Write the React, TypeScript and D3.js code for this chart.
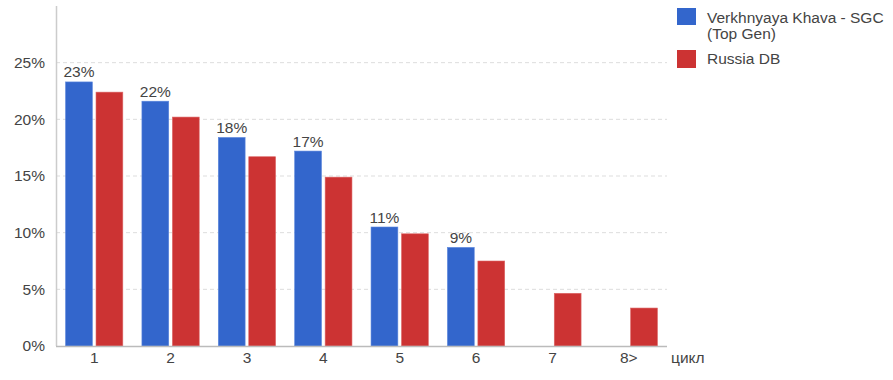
import React from "react";
import * as d3 from "d3";

const categories = ["1", "2", "3", "4", "5", "6", "7", "8>"];
const seriesNames = ["Verkhnyaya Khava - SGC (Top Gen)", "Russia DB"];
const topGen: (number | null)[] = [23.3, 21.6, 18.4, 17.2, 10.5, 8.7, null, null];
const russiaDb: number[] = [22.4, 20.2, 16.7, 14.9, 9.9, 7.5, 4.65, 3.35];
const topGenLabels = ["23%", "22%", "18%", "17%", "11%", "9%", "", ""];
const yTicks = [0, 5, 10, 15, 20, 25];
const colors = ["#3366cc", "#cc3333"];

const W = 893, H = 380;
const left = 56, right = 667, top = 6, bottom = 346;

export default function App() {
  const x = d3.scaleBand().domain(categories).range([left, right]).paddingInner(0.25).paddingOuter(0.125);
  const x1 = d3.scaleBand().domain(["a", "b"]).range([0, x.bandwidth()]).paddingInner(0.12);
  const y = d3.scaleLinear().domain([0, 30]).range([bottom, top]);
  const font = "'Liberation Sans', Arial, sans-serif";
  const textColor = "#444";
  const fs = 15.5;
  return (
    <svg width={W} height={H} style={{ position: "absolute", left: 0, top: 0 }} fontFamily={font}>
      {yTicks.filter(t => t > 0).map(t => (
        <line key={t} x1={left} x2={right} y1={y(t)} y2={y(t)} stroke="#ddd" strokeDasharray="4,3" />
      ))}
      {yTicks.map(t => (
        <text key={"l" + t} x={45} y={y(t)} dy="0.35em" textAnchor="end" fontSize={fs} fill={textColor}>{t}%</text>
      ))}
      {categories.map((c, i) => (
        <g key={c}>
          {topGen[i] != null && (
            <rect x={x(c)! + x1("a")!} y={y(topGen[i] as number)} width={x1.bandwidth()} height={bottom - y(topGen[i] as number)} fill={colors[0]} stroke="#5b86dd" strokeWidth={0.6} />
          )}
          <rect x={x(c)! + x1("b")!} y={y(russiaDb[i])} width={x1.bandwidth()} height={bottom - y(russiaDb[i])} fill={colors[1]} stroke="#dd6666" strokeWidth={0.6} />
          {topGenLabels[i] && (
            <text x={x(c)! + x1("a")! + x1.bandwidth() / 2} y={y(topGen[i] as number) - 4.5} textAnchor="middle" fontSize={fs} fill={textColor}>{topGenLabels[i]}</text>
          )}
          <text x={x(c)! + x.bandwidth() / 2} y={363} textAnchor="middle" fontSize={fs} fill={textColor}>{c}</text>
        </g>
      ))}
      <line x1={56.5} x2={56.5} y1={top} y2={bottom} stroke="#ccc" strokeWidth={1.5} />
      <line x1={left} x2={right} y1={bottom + 0.5} y2={bottom + 0.5} stroke="#bbb" strokeWidth={1.5} />
      <text x={671} y={363} fontSize={fs} fill={textColor}>цикл</text>
      <rect x={677} y={8} width={19} height={17} fill={colors[0]} />
      <text x={707} y={23} fontSize={fs} fill={textColor}>Verkhnyaya Khava - SGC</text>
      <text x={707} y={39} fontSize={fs} fill={textColor}>(Top Gen)</text>
      <rect x={677} y={50} width={19} height={18} fill={colors[1]} />
      <text x={707} y={64} fontSize={fs} fill={textColor}>{seriesNames[1]}</text>
    </svg>
  );
}
